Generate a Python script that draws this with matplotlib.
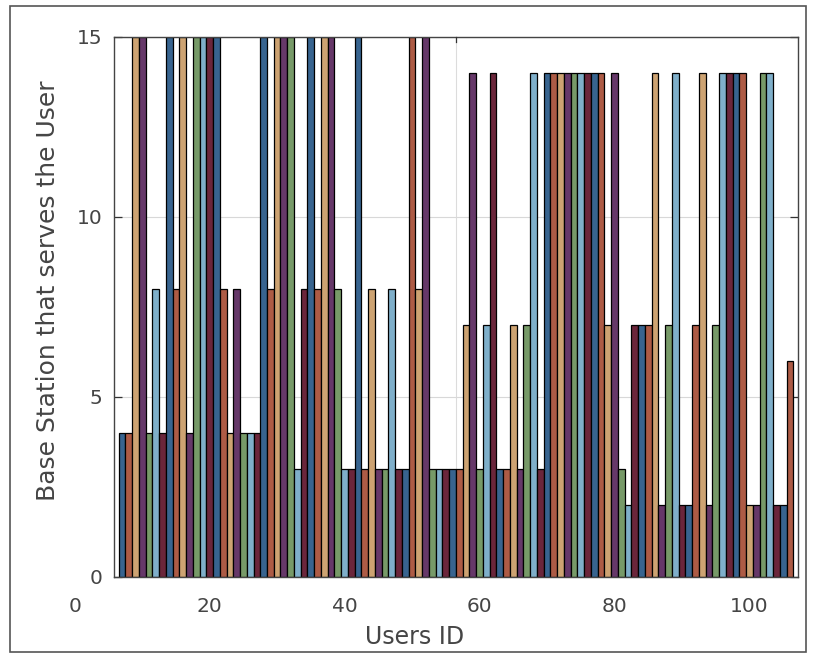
import matplotlib
matplotlib.use("Agg")
import matplotlib.pyplot as plt
import matplotlib.transforms as mtransforms
from matplotlib.patches import Rectangle
import numpy as np

# ---- data ----
user_ids = np.arange(7, 107)          # Users ID 7 .. 106
serving_bs = [
    4, 4, 15, 15, 4, 8, 4, 15, 8, 15, 4, 15, 15, 15, 15, 8, 4, 8, 4, 4,
    4, 15, 8, 15, 15, 15, 3, 8, 15, 8, 15, 15, 8, 3, 3, 15, 3, 8, 3, 3,
    8, 3, 3, 15, 8, 15, 3, 3, 3, 3, 3, 7, 14, 3, 7, 14, 3, 3, 7, 3,
    7, 14, 3, 14, 14, 14, 14, 14, 14, 14, 14, 14, 7, 14, 3, 2, 7, 7, 7, 14,
    2, 7, 14, 2, 2, 7, 14, 2, 7, 14, 14, 14, 14, 2, 2, 14, 14, 2, 2, 6,
]
x_tick_values = [0, 20, 40, 60, 80, 100]
y_tick_values = [0, 5, 10, 15]
x_label = "Users ID"
y_label = "Base Station that serves the User"

palette = ["#38648f", "#ad5b45", "#cda372", "#663869", "#779a68", "#7fafca", "#6b263b"]
text_col = "#454545"

W, H = 813, 655
fig = plt.figure(figsize=(W / 100, H / 100), dpi=100)
fig.patch.set_facecolor("white")

# outer frame
fig.patches.append(Rectangle((10 / W, 3 / H), 796 / W, 646 / H, transform=fig.transFigure,
                             fill=False, edgecolor="#555555", linewidth=1.2))

ax = fig.add_axes([113.5 / W, (H - 577) / H, (798 - 113.5) / W, (577 - 37) / H])

bar_colors = [palette[i % len(palette)] for i in range(len(serving_bs))]
ax.bar(user_ids, serving_bs, width=1.0, color=bar_colors, edgecolor="black",
       linewidth=0.9, zorder=2)

ax.set_xlim(5.75, 107.2)
ax.set_ylim(0, 15)

# grid
ax.set_yticks(y_tick_values)
ax.yaxis.grid(True, color="#d8d8d8", linewidth=0.8, zorder=0)
ax.set_axisbelow(True)
ax.axvline(56.5, color="#dcdcdc", linewidth=0.8, zorder=0)
ax.plot([56.5, 56.5], [15, 14.85], color="#333333", linewidth=0.9, zorder=3, clip_on=False)

ax.tick_params(axis="y", direction="in", length=6, width=0.9, colors="#333333",
               labelsize=14.5, labelcolor=text_col, pad=8, left=True, right=True)

# x tick labels (0 lies left of the axes box)
ax.set_xticks([])
trans = mtransforms.blended_transform_factory(ax.transData, ax.transAxes)
for v in x_tick_values:
    ax.text(v, -0.055, str(v), transform=trans, ha="center", va="center",
            fontsize=14.5, color=text_col, clip_on=False)

for s in ax.spines.values():
    s.set_color("#444444")
    s.set_linewidth(1.0)

ax.text(0.44, -0.112, x_label, transform=ax.transAxes, ha="center", va="center",
        fontsize=17, color=text_col)
ax.set_ylabel(y_label, fontsize=18, color=text_col)
ax.yaxis.set_label_coords(-0.078, 0.53)

fig.savefig("out.png", dpi=100)
